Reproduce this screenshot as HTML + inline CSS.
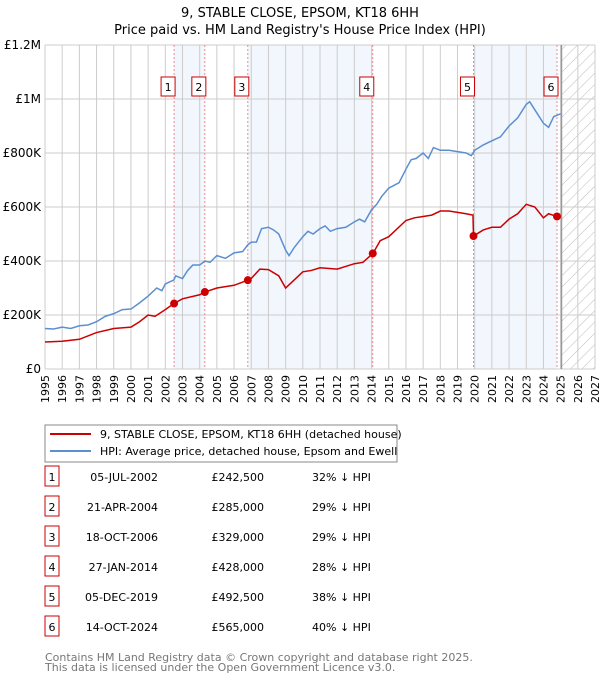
<!DOCTYPE html>
<html><head><meta charset="utf-8"><style>
body{margin:0;background:#fff;font-family:"DejaVu Sans","Liberation Sans",sans-serif;}
svg text{font-family:"DejaVu Sans","Liberation Sans",sans-serif;}
</style></head><body>
<svg id="c" width="600" height="680" xmlns="http://www.w3.org/2000/svg">
<defs><pattern id="hatch" width="8" height="8" patternUnits="userSpaceOnUse" patternTransform="rotate(45)"><line x1="0" y1="0" x2="0" y2="8" stroke="#bbb" stroke-width="1"/></pattern></defs>
<text x="300" y="17" text-anchor="middle" font-size="13">9, STABLE CLOSE, EPSOM, KT18 6HH</text>
<text x="300" y="34" text-anchor="middle" font-size="13">Price paid vs. HM Land Registry's House Price Index (HPI)</text>
<g id="plot"></g>
<g>
<rect x="45" y="425" width="352" height="37" fill="#fff" stroke="#888"/>
<line x1="50" y1="434" x2="91" y2="434" stroke="#cc0000" stroke-width="2"/>
<text x="100" y="438" font-size="11">9, STABLE CLOSE, EPSOM, KT18 6HH (detached house)</text>
<line x1="50" y1="451" x2="91" y2="451" stroke="#5b8fd0" stroke-width="2"/>
<text x="100" y="455" font-size="11">HPI: Average price, detached house, Epsom and Ewell</text>
</g>
<g id="table"></g>
<text x="45" y="661" font-size="11" fill="#777">Contains HM Land Registry data © Crown copyright and database right 2025.</text>
<text x="45" y="671" font-size="11" fill="#777">This data is licensed under the Open Government Licence v3.0.</text>
</svg>
<script>
const hpiYears=[1995,1995.5,1996,1996.5,1997,1997.5,1998,1998.5,1999,1999.5,2000,2000.5,2001,2001.5,2001.8,2002,2002.5,2002.6,2003,2003.3,2003.6,2004,2004.3,2004.6,2005,2005.5,2006,2006.5,2006.8,2007,2007.3,2007.6,2008,2008.3,2008.6,2009,2009.2,2009.5,2010,2010.3,2010.6,2011,2011.3,2011.6,2012,2012.5,2013,2013.3,2013.6,2014,2014.3,2014.6,2015,2015.3,2015.6,2016,2016.3,2016.6,2017,2017.3,2017.6,2018,2018.5,2019,2019.5,2019.8,2020,2020.5,2021,2021.5,2022,2022.5,2023,2023.2,2023.5,2024,2024.3,2024.6,2025];
const hpiValues=[150,148,155,150,160,163,175,195,205,220,222,245,270,300,290,315,330,345,335,365,385,385,400,395,420,410,430,435,460,470,470,520,525,515,500,440,420,450,490,510,500,520,530,510,520,525,545,555,545,590,610,640,670,680,690,740,775,780,800,780,820,810,810,805,800,790,810,830,845,860,900,930,980,990,960,910,895,935,945];
const ppYears=[1995,1996,1997,1998,1999,2000,2000.5,2001,2001.4,2002,2002.5,2003,2004,2004.3,2005,2006,2006.8,2007,2007.5,2008,2008.6,2009,2009.5,2010,2010.5,2011,2012,2013,2013.5,2014.08,2014.5,2015,2016,2016.5,2017,2017.5,2018,2018.5,2019,2019.5,2019.9,2019.93,2020.5,2021,2021.5,2022,2022.5,2023,2023.5,2024,2024.3,2024.79,2025];
const ppValues=[100,103,110,135,150,155,175,200,195,220,242.5,260,275,285,300,310,329,335,370,368,345,300,330,360,365,375,370,390,395,428,475,490,550,560,565,570,585,585,580,575,570,492.5,515,525,525,555,575,610,600,560,575,565,560];
const saleLabels=["1","2","3","4","5","6"];
const saleDates=["05-JUL-2002","21-APR-2004","18-OCT-2006","27-JAN-2014","05-DEC-2019","14-OCT-2024"];
const saleYears=[2002.51,2004.3,2006.8,2014.07,2019.93,2024.79];
const salePrices=[242500,285000,329000,428000,492500,565000];
const salePriceLabels=["£242,500","£285,000","£329,000","£428,000","£492,500","£565,000"];
const saleHpi=["32% ↓ HPI","29% ↓ HPI","29% ↓ HPI","28% ↓ HPI","38% ↓ HPI","40% ↓ HPI"];
const yTicks=[0,200,400,600,800,1000,1200];
const yTickLabels=["£0","£200K","£400K","£600K","£800K","£1M","£1.2M"];
const xTicks=[1995,1996,1997,1998,1999,2000,2001,2002,2003,2004,2005,2006,2007,2008,2009,2010,2011,2012,2013,2014,2015,2016,2017,2018,2019,2020,2021,2022,2023,2024,2025,2026,2027];

const L=45,R=595,T=45,B=369;
const X=y=>L+(y-1995)/(2027-1995)*(R-L);
const Y=v=>B-v/1200*(B-T);
const NS="http://www.w3.org/2000/svg";
const plot=document.getElementById('plot');
function mk(tag,attrs,parent){const e=document.createElementNS(NS,tag);for(const k in attrs)e.setAttribute(k,attrs[k]);(parent||plot).appendChild(e);return e;}
for(let i=0;i<saleYears.length-1;i+=2){
 const r=mk('rect',{x:X(saleYears[i]),y:T,width:X(saleYears[i+1])-X(saleYears[i]),height:B-T,fill:'#f2f6fd'});
 
 
}
const fut=mk('rect',{x:X(2025.05),y:T,width:R-X(2025.05),height:B-T,fill:'url(#hatch)'});


xTicks.forEach(t=>{
 const g=mk('line',{x1:X(t),x2:X(t),y1:T,y2:B,stroke:'#ccc'});
 
 
 const tx=mk('text',{x:0,y:0,'font-size':11,'text-anchor':'end',transform:`translate(${X(t)+4},${B+6}) rotate(-90)`});
 tx.textContent=t;
 
 
});
yTicks.forEach((t,i)=>{
 const g=mk('line',{x1:L,x2:R,y1:Y(t),y2:Y(t),stroke:'#ccc'});
 
 
 const tx=mk('text',{x:L-4,y:Y(t)+4,'font-size':12,'text-anchor':'end'});
 tx.textContent=yTickLabels[i];
 
 
});
const nowL=mk('line',{x1:X(2025.05),x2:X(2025.05),y1:T,y2:B,stroke:'#999','stroke-width':1.5});


saleYears.forEach((s,i)=>{
 const v=mk('line',{x1:X(s),x2:X(s),y1:T,y2:B,stroke:'#f07070','stroke-width':0.8,'stroke-dasharray':'2,2'});
 
 
 const bx=mk('rect',{x:X(s)-13,y:77,width:14,height:19,fill:'#fff',stroke:'#cc0000'});
 
 
 const t=mk('text',{x:X(s)-6,y:91,'font-size':11,'text-anchor':'middle'});
 t.textContent=saleLabels[i];
 
 
});
const hp=mk('polyline',{points:hpiYears.map((y,i)=>X(y)+','+Y(hpiValues[i])).join(' '),fill:'none',stroke:'#5b8fd0','stroke-width':1.5});


const pp=mk('polyline',{points:ppYears.map((y,i)=>X(y)+','+Y(ppValues[i])).join(' '),fill:'none',stroke:'#cc0000','stroke-width':1.5});


saleYears.forEach((s,i)=>{
 const c=mk('circle',{cx:X(s),cy:Y(salePrices[i]/1000),r:4,fill:'#cc0000'});
 
 
});
const tb=document.getElementById('table');
saleLabels.forEach((l,i)=>{
 const y=483+i*30;
 const b=mk('rect',{x:45,y:y-17,width:14,height:20,fill:'#fff',stroke:'#cc0000'},tb);
 
 
 const cells=[[52,l,'middle'],[158,saleDates[i],'end'],[264,salePriceLabels[i],'end'],[312,saleHpi[i],'start']];
 cells.forEach((c,j)=>{
  const t=mk('text',{x:c[0],y:y-2,'font-size':11,'text-anchor':c[2]},tb);
  t.textContent=c[1];
  
  
 });
});
</script>
</body></html>
